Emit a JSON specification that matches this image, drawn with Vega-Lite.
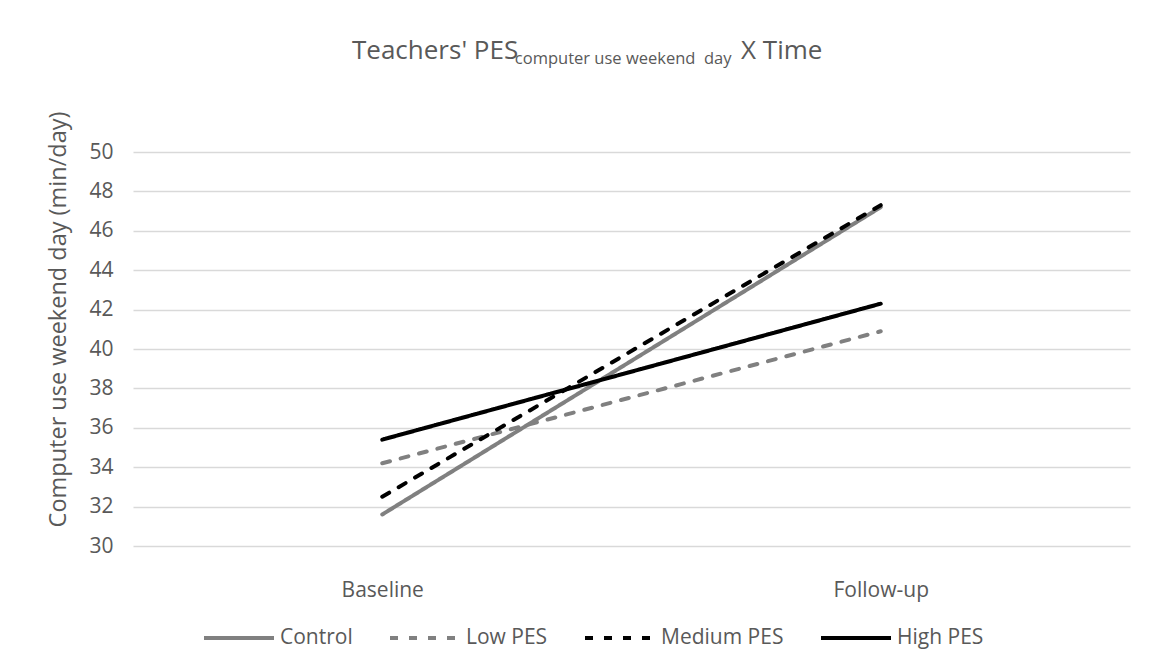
{
  "$schema": "https://vega.github.io/schema/vega-lite/v6.json",
  "width": 997,
  "height": 394,
  "autosize": {"type": "none"},
  "padding": {"left": 133, "top": 152, "right": 35, "bottom": 124},
  "background": "white",
  "config": {"font": "Open Sans", "view": {"stroke": null}},
  "title": {
    "text": "Teachers' PES\u00a0\u00a0\u00a0\u00a0\u00a0\u00a0\u00a0\u00a0\u00a0\u00a0\u00a0\u00a0\u00a0\u00a0\u00a0\u00a0\u00a0\u00a0\u00a0\u00a0\u00a0\u00a0\u00a0\u00a0\u00a0\u00a0\u00a0\u00a0\u00a0\u00a0\u00a0\u00a0\u00a0X Time",
    "subtitle": "\u200b\u00a0\u00a0\u00a0\u00a0\u00a0\u00a0\u00a0\u00a0\u00a0\u00a0\u00a0\u00a0\u00a0\u00a0\u00a0\u00a0\u00a0\u00a0\u00a0\u00a0\u00a0\u00a0\u00a0\u00a0\u00a0\u00a0\u00a0\u00a0\u00a0\u00a0\u00a0\u00a0\u00a0\u00a0\u00a0\u00a0\u00a0\u00a0computer use weekend\u00a0\u00a0day",
    "anchor": "start",
    "frame": "group",
    "dx": 219,
    "fontSize": 26,
    "fontWeight": "normal",
    "color": "#595959",
    "subtitleFontSize": 16.5,
    "subtitleColor": "#595959",
    "subtitlePadding": -13,
    "offset": 44
  },
  "data": {
    "values": [
      {"group": "Control", "time": "Baseline", "value": 31.6},
      {"group": "Control", "time": "Follow-up", "value": 47.2},
      {"group": "Low PES", "time": "Baseline", "value": 34.2},
      {"group": "Low PES", "time": "Follow-up", "value": 40.9},
      {"group": "Medium PES", "time": "Baseline", "value": 32.5},
      {"group": "Medium PES", "time": "Follow-up", "value": 47.3},
      {"group": "High PES", "time": "Baseline", "value": 35.4},
      {"group": "High PES", "time": "Follow-up", "value": 42.3}
    ]
  },
  "mark": {"type": "line", "strokeWidth": 4, "strokeCap": "round"},
  "encoding": {
    "x": {
      "field": "time",
      "type": "nominal",
      "sort": ["Baseline", "Follow-up"],
      "scale": {"type": "point", "padding": 0.5},
      "axis": {
        "title": null,
        "labelAngle": 0,
        "labelFontSize": 21,
        "labelColor": "#595959",
        "ticks": false,
        "tickSize": 0,
        "domain": false,
        "grid": false,
        "labelPadding": 33
      }
    },
    "y": {
      "field": "value",
      "type": "quantitative",
      "scale": {"domain": [30, 50], "nice": false, "zero": false},
      "axis": {
        "values": [30, 32, 34, 36, 38, 40, 42, 44, 46, 48, 50],
        "title": "Computer use weekend day (min/day)",
        "titleFontSize": 23.5,
        "titleFontWeight": "normal",
        "titleColor": "#595959",
        "titlePadding": 18,
        "titleY": 167,
        "labelFontSize": 21,
        "labelColor": "#595959",
        "ticks": false,
        "tickSize": 0,
        "domain": false,
        "labelPadding": 20,
        "gridColor": "#d9d9d9",
        "gridWidth": 1.5
      }
    },
    "color": {
      "field": "group",
      "type": "nominal",
      "sort": ["Control", "Low PES", "Medium PES", "High PES"],
      "scale": {
        "domain": ["Control", "Low PES", "Medium PES", "High PES"],
        "range": ["#808080", "#808080", "#000000", "#000000"]
      },
      "legend": {
        "title": null,
        "orient": "none",
        "legendX": 69,
        "legendY": 449,
        "direction": "horizontal",
        "symbolType": "stroke",
        "symbolSize": 4900,
        "symbolStrokeWidth": 4,
        "labelFontSize": 21,
        "labelColor": "#595959",
        "labelOffset": 4,
        "columnPadding": 29,
        "padding": 0
      }
    },
    "strokeDash": {
      "field": "group",
      "type": "nominal",
      "sort": ["Control", "Low PES", "Medium PES", "High PES"],
      "scale": {
        "domain": ["Control", "Low PES", "Medium PES", "High PES"],
        "range": [[1, 0], [8, 11], [8, 11], [1, 0]]
      },
      "legend": {
        "title": null,
        "orient": "none",
        "legendX": 69,
        "legendY": 449,
        "direction": "horizontal",
        "symbolType": "stroke",
        "symbolSize": 4900,
        "symbolStrokeWidth": 4,
        "labelFontSize": 21,
        "labelColor": "#595959",
        "labelOffset": 4,
        "columnPadding": 29,
        "padding": 0
      }
    }
  }
}
